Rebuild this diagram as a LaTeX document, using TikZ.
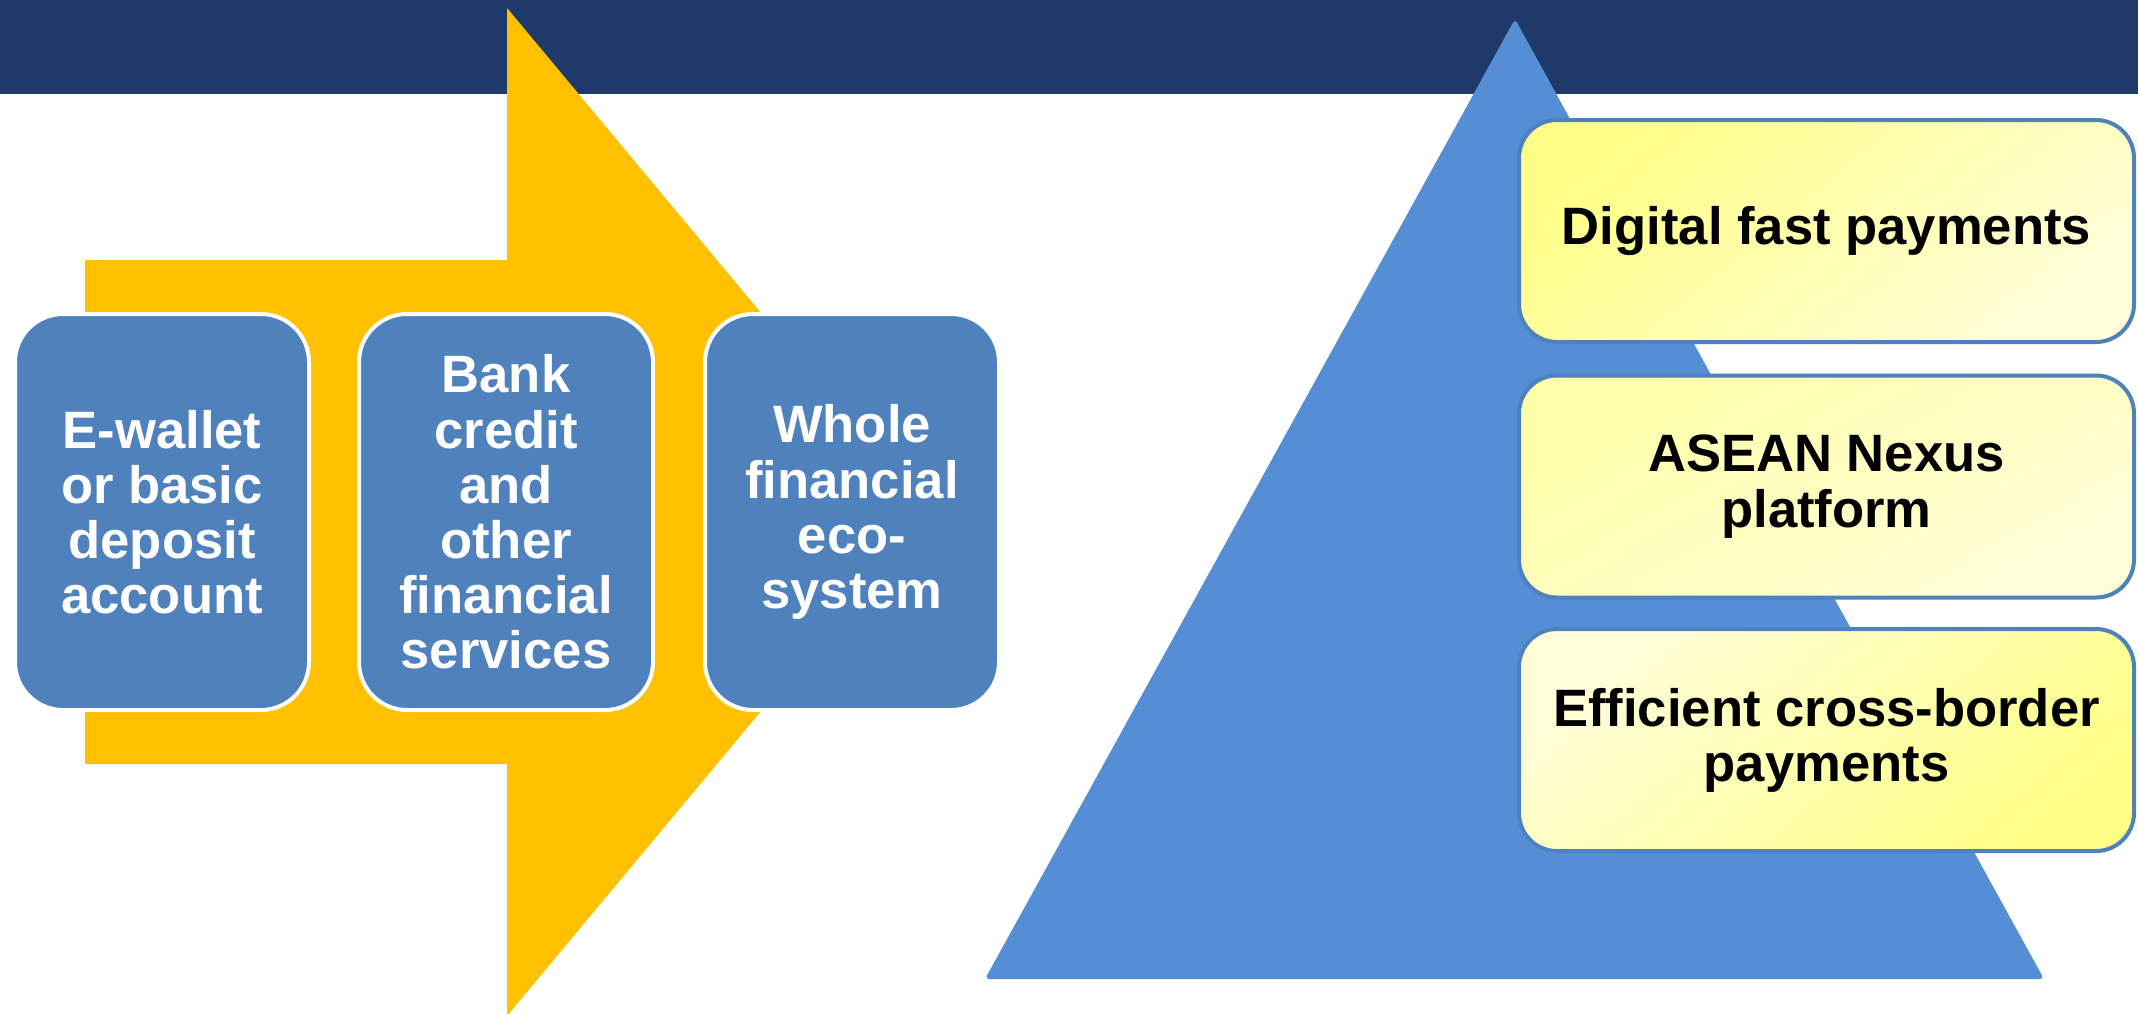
\documentclass[tikz,border=0pt]{standalone}
\usepackage{fontspec}
\setmainfont{Liberation Sans}
\definecolor{bandblue}{RGB}{30,57,106}
\definecolor{gold}{RGB}{255,192,0}
\definecolor{boxblue}{RGB}{79,129,189}
\definecolor{triblue}{RGB}{85,142,213}
\definecolor{ystrong}{RGB}{255,255,136}
\definecolor{ymid}{RGB}{255,255,170}
\definecolor{ylight}{RGB}{255,253,216}
\begin{document}
\begin{tikzpicture}[x=0.5pt,y=-0.5pt,
  txt/.style={font=\bfseries\fontsize{26.3}{27.6}\selectfont, align=center},
  bluebox/.style={txt, draw=white, line width=2pt, fill=boxblue, rounded corners=24pt,
    minimum width=147pt, minimum height=198pt, inner sep=0pt, text=white},
  yelbox/.style={txt, draw=boxblue, line width=2pt, rounded corners=19pt,
    minimum width=307.5pt, minimum height=111pt, inner sep=0pt, text=black}]
\useasboundingbox (0,0) rectangle (2138,1013);
\clip (0,0) rectangle (2138,1013);
% top band
\fill[bandblue] (0,0) rectangle (2138,94);
% chevron arrow
\fill[gold] (85,260) -- (507,260) -- (507,8) -- (927,512) -- (507,1016) -- (507,764) -- (85,764) -- cycle;
% process boxes
\node[bluebox] (b1) at (162,512) {E-wallet\\or basic\\deposit\\account};
\node[bluebox] (b2) at (506,512) {Bank\\credit\\and\\other\\financial\\services};
\node[bluebox] (b3) at (852,512) {Whole\\financial\\eco-\\system};
% pyramid
\fill[triblue, rounded corners=2pt] (1515,19) -- (2044,979) -- (985,979) -- cycle;
% yellow boxes
\node[yelbox, top color=ystrong, bottom color=ylight, shading angle=40] (ya) at (1826.5,231) {Digital fast payments};
\node[yelbox, top color=ymid, bottom color=ylight, shading angle=30] (yb) at (1826.5,486.5) {ASEAN Nexus\\platform};
\node[yelbox, top color=ylight, bottom color=ystrong, shading angle=40] (yc) at (1826.5,740) {Efficient cross-border\\payments};
\end{tikzpicture}
\end{document}
